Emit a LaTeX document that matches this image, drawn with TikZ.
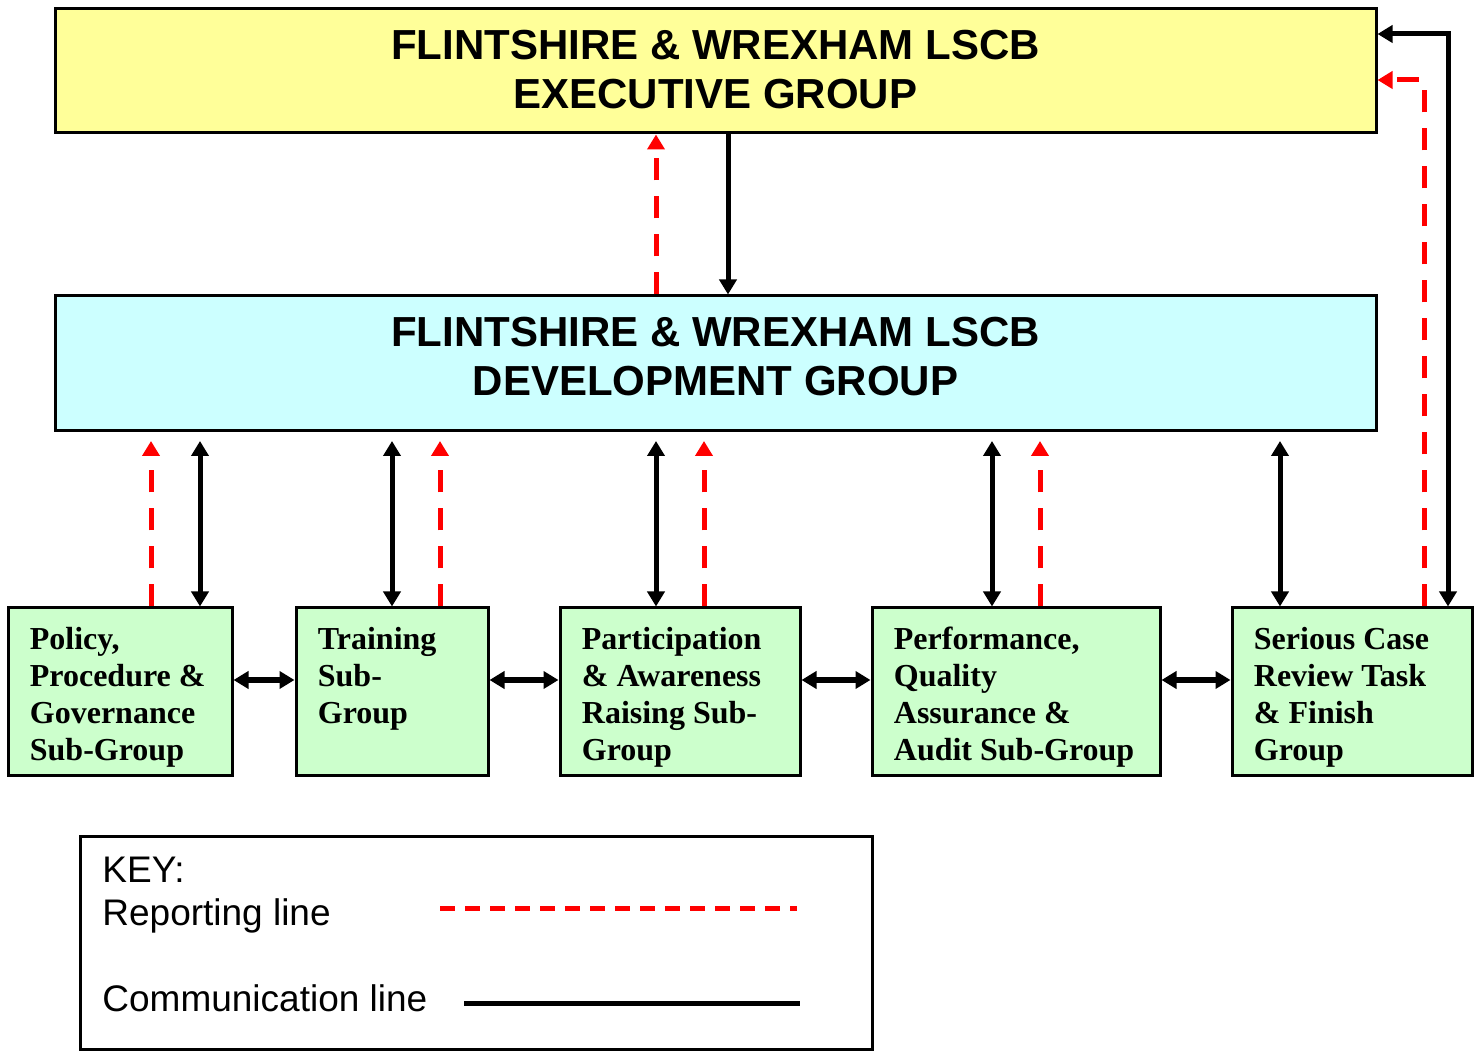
\documentclass[tikz,border=0pt]{standalone}
\usepackage{fontspec}
\setmainfont{Liberation Serif}
\newfontfamily\arialfont{Liberation Sans}
\usetikzlibrary{arrows.meta}
\definecolor{execfill}{HTML}{FFFF99}
\definecolor{devfill}{HTML}{CCFFFF}
\definecolor{subfill}{HTML}{CCFFCC}
\definecolor{repred}{HTML}{FF0000}
\begin{document}
\begin{tikzpicture}[x=0.5pt,y=-0.5pt,
  >={Triangle[width=8.5pt,length=7.5pt]},
  bigbox/.style={draw=black,line width=1.5pt,minimum width=660.5pt,inner sep=0pt},
  bigtext/.style={font=\arialfont\bfseries\fontsize{21}{24.5}\selectfont,align=center,inner sep=0pt},
  subbox/.style={draw=black,line width=1.5pt,fill=subfill,minimum height=84pt,inner sep=0pt},
  subtext/.style={font=\bfseries\fontsize{16}{18.5}\selectfont,align=left,anchor=north west,inner sep=0pt},
  comm/.style={draw=black,line width=2.5pt},
  commthick/.style={draw=black,line width=2.75pt},
  report/.style={draw=repred,line width=2.5pt,dash pattern=on 11pt off 8pt},
  keytext/.style={font=\arialfont\fontsize{18.5}{22}\selectfont,anchor=base west,inner sep=0pt}]
\useasboundingbox (0,0) rectangle (1479,1052);

% main boxes
\node[bigbox,fill=execfill,minimum height=62pt] (exec) at (715.5,71) {};
\node[bigtext] (exect) at (715.5,69.5) {FLINTSHIRE \& WREXHAM LSCB\\EXECUTIVE GROUP};
\node[bigbox,fill=devfill,minimum height=67.5pt] (dev) at (715.5,363.5) {};
\node[bigtext] (devt) at (715.5,357) {FLINTSHIRE \& WREXHAM LSCB\\DEVELOPMENT GROUP};

% sub-group boxes
\node[subbox,minimum width=112pt] (b1) at (120,692) {};
\node[subbox,minimum width=96pt]  (b2) at (392,692) {};
\node[subbox,minimum width=120pt] (b3) at (680,692) {};
\node[subbox,minimum width=144pt] (b4) at (1016,692) {};
\node[subbox,minimum width=120pt] (b5) at (1352,692) {};

\node[subtext] (t1) at (29.5,627) {Policy,\\Procedure \&\\Governance\\Sub-Group};
\node[subtext] (t2) at (317.5,627) {Training\\Sub-\\Group};
\node[subtext] (t3) at (581.5,627) {Participation\\\& Awareness\\Raising Sub-\\Group};
\node[subtext] (t4) at (893.5,627) {Performance,\\Quality\\Assurance \&\\Audit Sub-Group};
\node[subtext] (t5) at (1253.5,627) {Serious Case\\Review Task\\\& Finish\\Group};

% exec <-> dev
\coordinate (xr0) at (656,0);
\coordinate (xb0) at (728,0);
\draw[report,->] (dev.north -| xr0) -- (exec.south -| xr0);
\draw[comm,->] (exec.south -| xb0) -- (dev.north -| xb0);

% dev <-> sub-groups
\coordinate (gap) at (0,441);
\coordinate (r1) at (151,0);  \coordinate (k1) at (200,0);
\coordinate (k2) at (392,0);  \coordinate (r2) at (440,0);
\coordinate (k3) at (656,0);  \coordinate (r3) at (704,0);
\coordinate (k4) at (992,0);  \coordinate (r4) at (1040,0);
\coordinate (k5) at (1280,0);
\draw[report,->] (b1.north -| r1) -- (gap -| r1);
\draw[comm,<->] (b1.north -| k1) -- (gap -| k1);
\draw[comm,<->] (b2.north -| k2) -- (gap -| k2);
\draw[report,->] (b2.north -| r2) -- (gap -| r2);
\draw[comm,<->] (b3.north -| k3) -- (gap -| k3);
\draw[report,->] (b3.north -| r3) -- (gap -| r3);
\draw[comm,<->] (b4.north -| k4) -- (gap -| k4);
\draw[report,->] (b4.north -| r4) -- (gap -| r4);
\draw[comm,<->] (b5.north -| k5) -- (gap -| k5);

% right side to exec
\coordinate (kr) at (1448,34);
\coordinate (rr) at (1424,80);
\draw[comm,<->] (b5.north -| kr) -- (kr) -- (exec.east |- kr);
\draw[report,->] (b5.north -| rr) -- (rr) -- (exec.east |- rr);

% horizontal links
\coordinate (hy) at (0,680);
\draw[commthick,<->] (b1.east |- hy) -- (b2.west |- hy);
\draw[commthick,<->] (b2.east |- hy) -- (b3.west |- hy);
\draw[commthick,<->] (b3.east |- hy) -- (b4.west |- hy);
\draw[commthick,<->] (b4.east |- hy) -- (b5.west |- hy);

% key
\node[draw=black,line width=1.5pt,minimum width=396pt,minimum height=106.5pt,inner sep=0pt] (key) at (476,943.5) {};
\node[keytext] (keyt) at (102,883) {KEY:};
\node[keytext] (rept) at (102,926) {Reporting line};
\node[keytext] (comt) at (102,1012) {Communication line};
\coordinate (ra) at (440,909); \coordinate (rb) at (797,909);
\coordinate (ca) at (464,1004); \coordinate (cb) at (800,1004);
\draw[draw=repred,line width=2.5pt,dash pattern=on 7.5pt off 5pt] (ra) -- (rb);
\draw[comm] (ca) -- (cb);
\end{tikzpicture}
\end{document}
